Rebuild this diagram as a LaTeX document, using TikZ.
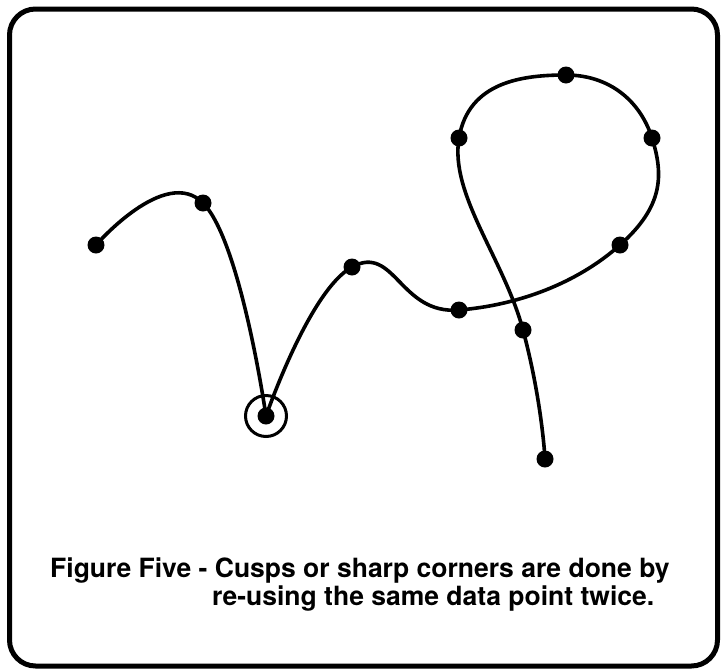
\documentclass[tikz,border=0pt]{standalone}
\usepackage{fontspec}
\setmainfont{TeX Gyre Heros}
\usetikzlibrary{positioning}

\begin{document}
\begin{tikzpicture}[
    x=1pt,
    y=-1pt,
    dot/.style={circle, fill=black, inner sep=0pt, minimum size=17pt},
    curve/.style={line width=3.6pt, smooth, tension=0.8},
    caption/.style={font=\bfseries\fontsize{26.5}{30}\selectfont, inner sep=0pt, anchor=base west}
]
\useasboundingbox (0,0) rectangle (721,670);

% Frame
\draw[line width=5pt, rounded corners=26pt] (9.5,9) rectangle (717.5,666);

% Data points
\node[dot] (p1) at (96,245) {};
\node[dot] (p2) at (203,203) {};
\node[dot] (p3) at (266,416) {};
\node[dot] (p4) at (352,267) {};
\node[dot] (p5) at (459,310) {};
\node[dot] (p6) at (620,245) {};
\node[dot] (p7) at (652,138) {};
\node[dot] (p8) at (566,75) {};
\node[dot] (p9) at (459,138) {};
\node[dot] (p10) at (523,330) {};
\node[dot] (p11) at (545,459) {};

% Cusp marker
\node[draw, circle, line width=3pt, minimum size=41pt, inner sep=0pt] (cusp) at (p3) {};

% Curve, split at the repeated point
\draw[curve] plot coordinates {(p1.center) (p2.center) (p3.center)};
\draw[curve] plot coordinates {(p3.center) (p4.center) (p5.center) (p6.center)
    (p7.center) (p8.center) (p9.center) (p10.center) (p11.center)};

% Caption
\node[caption] (cap1) at (50,577) {Figure Five - Cusps or sharp corners are done by};
\node[caption] (cap2) at (212,605) {re-using the same data point twice.};
\end{tikzpicture}
\end{document}
